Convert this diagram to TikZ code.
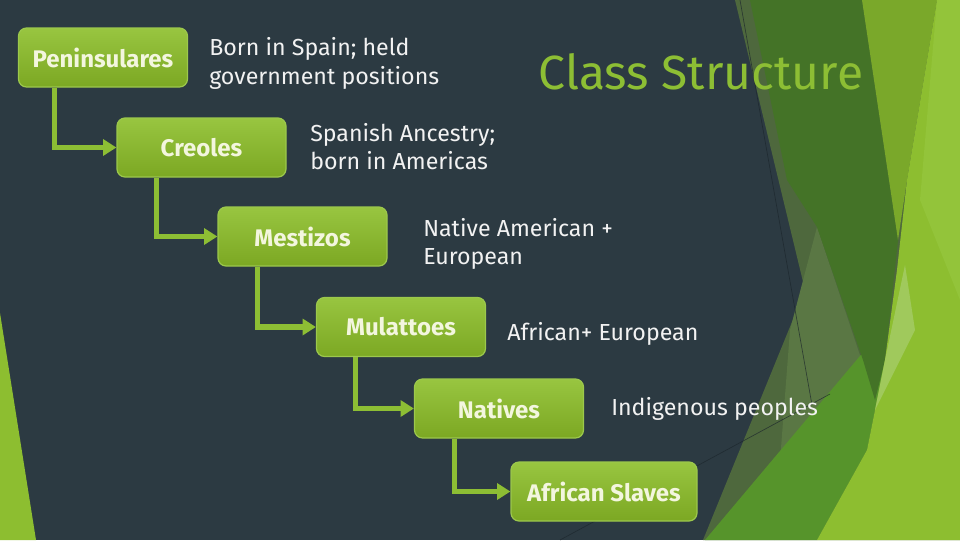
\documentclass[tikz,border=0pt]{standalone}
\usepackage{fontspec}
\setmainfont{Fira Sans}
\usetikzlibrary{arrows.meta,calc}
\definecolor{bg}{HTML}{2C3A42}
\definecolor{lime}{HTML}{8DBE30}
\definecolor{limelight}{HTML}{93C43A}
\definecolor{olive}{HTML}{7AA82A}
\definecolor{darkg}{HTML}{447327}
\definecolor{medg}{HTML}{56942B}
\definecolor{grayg}{HTML}{4E683D}
\definecolor{grayg2}{HTML}{5A7744}
\definecolor{paleg}{HTML}{A0C95C}
\definecolor{boxtop}{HTML}{98C540}
\definecolor{boxbot}{HTML}{7CA823}
\definecolor{boxedge}{HTML}{9CC84C}
\definecolor{labelc}{HTML}{F3F6DE}
\definecolor{conncol}{HTML}{8DBE34}
\definecolor{titlec}{HTML}{8DBE34}
\definecolor{desccol}{HTML}{F2F2F2}
\definecolor{thinc}{HTML}{1C262C}
\tikzset{
  box/.style={rounded corners=6pt, draw=boxedge, line width=0.9pt,
    top color=boxtop, bottom color=boxbot, text=labelc,
    font=\bfseries\fontsize{18}{21}\selectfont,
    minimum width=126.75pt, minimum height=44.25pt, inner sep=0pt},
  conn/.style={draw=conncol, line width=3.8pt,
    -{Triangle[length=10pt,width=12pt]}},
  desc/.style={text=desccol, font=\fontsize{17.4}{21}\selectfont, inner sep=0pt, anchor=base west},
  titletext/.style={text=titlec, font=\fontsize{36}{42}\selectfont, inner sep=0pt, anchor=base},
  thinline/.style={draw=thinc, line width=0.5pt, opacity=0.7}
}
\begin{document}
\begin{tikzpicture}[x=0.75pt,y=-0.75pt]
\useasboundingbox (0,0) rectangle (960,540);
\fill[bg] (0,0) rectangle (960,540);
% left strip
\fill[lime] (0,313) -- (36,540) -- (0,540) -- cycle;
% right facets
\fill[grayg] (735,0) -- (805,290) -- (703,540) -- (960,540) -- (960,0) -- cycle;
\fill[grayg2] (817,227) -- (875,400) -- (774,540) -- (790,330) -- cycle;
\fill[medg] (705,540) -- (865,350) -- (885,330) -- (885,360) -- (867,450) -- (817,540) -- cycle;
\fill[darkg] (750,0) -- (862,0) -- (898,240) -- (885,360) -- (875,400) -- (863,360) -- (817,227) -- (787,180) -- cycle;
\fill[olive] (862,0) -- (937,0) -- (907,180) -- (898,240) -- cycle;
\fill[lime] (937,0) -- (960,0) -- (960,540) -- (817,540) -- (867,450) -- (885,360) -- (897,270) -- (907,180) -- cycle;
\fill[limelight] (937,0) -- (960,0) -- (960,300) -- (920,200) -- cycle;
\fill[paleg] (905,265) -- (915,330) -- (875,410) -- (885,360) -- cycle;
\draw[thinline] (740,0) -- (812,405);
\draw[thinline] (560,540) -- (830,394);
% title
\node[titletext] (title) at (701,89) {Class Structure};
% boxes
\node[box] (pen) at (103,57.5) {Peninsulares};
\node[box] (cre) at (201.5,147.5) {Creoles};
\node[box] (mes) at (302.5,236.5) {Mestizos};
\node[box] (mul) at (401,327) {Mulattoes};
\node[box] (nat) at (499,408.5) {Natives};
\node[box, minimum width=139.5pt] (afr) at (604,491.5) {African Slaves};
% connectors
\draw[conn] ($(pen.south west)+(37,0)$) |- (cre.west);
\draw[conn] ($(cre.south west)+(40,0)$) |- (mes.west);
\draw[conn] ($(mes.south west)+(40,0)$) |- (mul.west);
\draw[conn] ($(mul.south west)+(40,0)$) |- (nat.west);
\draw[conn] ($(nat.south west)+(41,0)$) |- (afr.west);
% descriptions
\node[desc] (d1a) at (209,55) {Born in Spain; held};
\node[desc] (d1b) at (209,84) {government positions};
\node[desc] (d2a) at (310,141) {Spanish Ancestry;};
\node[desc] (d2b) at (310,169) {born in Americas};
\node[desc] (d3a) at (423,236) {Native American +};
\node[desc] (d3b) at (423,264) {European};
\node[desc] (d4) at (507,340) {African+ European};
\node[desc] (d5) at (611,415) {Indigenous peoples};
\end{tikzpicture}
\end{document}
